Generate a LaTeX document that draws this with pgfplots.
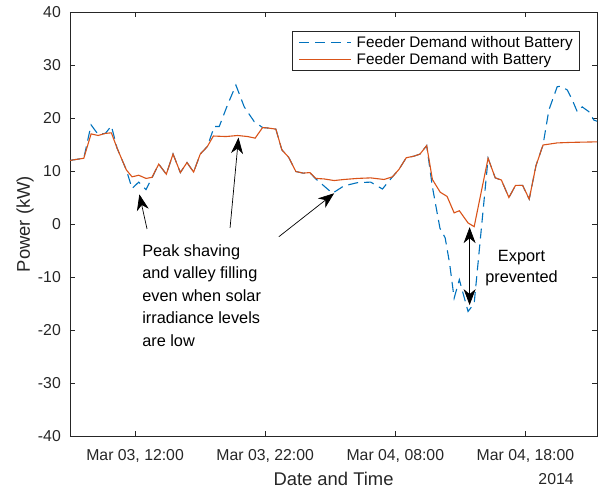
\documentclass[border=0pt]{standalone}
\usepackage{fontspec}
\setmainfont{Liberation Sans}
\usepackage{pgfplots}
\pgfplotsset{compat=1.18}
\usepackage{pgfplotstable}
\usetikzlibrary{arrows.meta}
\definecolor{mblue}{rgb}{0,0.447,0.741}
\definecolor{morange}{rgb}{0.85,0.325,0.098}
\definecolor{axgray}{rgb}{0.15,0.15,0.15}

% hours since Mar 03 00:00, kW
\pgfplotstableread{
t v
7.00 12.0
8.06 12.4
8.62 18.7
9.16 16.9
9.72 17.1
10.18 18.5
10.62 14.3
11.33 10.2
11.77 6.7
12.28 7.9
12.84 6.5
13.30 8.7
13.82 11.3
14.40 9.4
14.92 13.2
15.48 9.7
15.99 11.6
16.50 9.8
17.01 13.2
17.55 14.6
18.09 18.4
18.47 18.4
19.11 22.5
19.75 26.2
20.39 22.1
21.16 19.3
21.80 18.2
22.26 18.1
22.82 17.9
23.28 14.0
23.80 12.6
24.36 9.9
24.92 9.6
25.43 9.7
25.89 8.5
27.17 5.8
28.06 7.2
29.09 7.8
30.11 7.9
31.01 6.6
31.78 8.9
32.28 10.3
32.84 12.5
33.44 12.8
33.90 13.2
34.41 14.8
34.85 7.0
35.43 -0.8
35.83 -2.6
36.17 -7.4
36.52 -14.0
36.92 -10.5
37.59 -16.5
38.06 -15.0
39.13 12.4
39.68 8.7
40.15 8.3
40.73 5.0
41.24 7.3
41.78 7.3
42.29 4.7
42.81 11.0
43.35 14.9
43.80 21.5
44.44 25.9
44.70 26.0
45.21 25.3
45.60 23.4
45.98 21.2
46.36 22.1
46.87 21.2
47.26 19.6
47.50 19.4
}\withoutbat

\pgfplotstableread{
t v
7.00 12.0
8.06 12.4
8.62 17.0
9.16 16.7
9.72 17.1
10.18 17.2
10.62 14.3
11.33 10.2
11.77 8.9
12.28 9.2
12.84 8.6
13.30 8.8
13.82 11.3
14.40 9.4
14.92 13.2
15.48 9.7
15.99 11.6
16.50 9.8
17.01 13.2
17.55 14.6
18.02 16.6
18.98 16.5
19.88 16.7
20.65 16.5
21.23 16.2
21.80 18.2
22.26 18.1
22.82 17.9
23.28 14.0
23.80 12.6
24.36 9.9
24.92 9.6
25.43 9.7
25.89 8.6
26.53 8.5
27.30 8.2
28.06 8.4
29.09 8.6
30.11 8.7
31.13 8.4
31.78 8.9
32.28 10.3
32.84 12.5
33.44 12.8
33.90 13.2
34.41 14.8
34.85 8.4
35.45 6.0
35.98 5.2
36.52 2.1
36.92 2.5
37.59 0.2
38.06 -0.5
39.13 12.4
39.68 8.7
40.15 8.3
40.73 5.0
41.24 7.3
41.78 7.3
42.29 4.7
42.81 11.0
43.35 14.9
44.44 15.3
45.50 15.4
46.50 15.45
47.50 15.5
}\withbat

\begin{document}
\begin{tikzpicture}[x=1pt,y=1pt]
\useasboundingbox (-70,-54) rectangle (542,436);
\begin{axis}[
  at={(0,0)}, anchor=south west,
  scale only axis, width=527pt, height=424pt,
  xmin=7, xmax=47.5, ymin=-40, ymax=40,
  xtick={12,22,32,42},
  xticklabels={{Mar 03, 12:00},{Mar 03, 22:00},{Mar 04, 08:00},{Mar 04, 18:00}},
  ytick={-40,-30,-20,-10,0,10,20,30,40},
  tick align=inside, xtick pos=both, ytick pos=both,
  major tick length=5pt,
  axis line style={axgray, line width=0.6pt},
  tick style={axgray, line width=0.6pt},
  /pgf/number format/assume math mode=true,
  tick label style={font=\fontsize{15.8}{18}\selectfont, text=axgray},
  yticklabel style={inner sep=0pt, xshift=-9pt},
  xticklabel style={inner sep=0pt, yshift=-13pt},
  xlabel={Date and Time},
  ylabel={Power (kW)},
  label style={font=\fontsize{18.4}{22}\selectfont, text=axgray},
  xlabel style={at={(axis description cs:0.5,0)}, anchor=north, inner sep=0pt, yshift=-36pt},
  ylabel style={at={(axis description cs:-0.0854,0.5)}, anchor=center, inner sep=0pt},
  clip mode=individual,
  legend cell align=left,
  legend image code/.code={\draw[#1] (0pt,0pt) -- (52pt,0pt);},
  legend style={at={(0.9677,0.955)}, anchor=north east, draw=axgray, line width=0.6pt,
    font=\fontsize{15.3}{18}\selectfont, inner xsep=6pt, inner ysep=4pt,
    row sep=2pt, column sep=4pt, nodes={inner sep=1pt}},
]
\addplot[mblue, line width=1.1pt, dash pattern=on 10pt off 6pt] table[x=t,y=v] {\withoutbat};
\addlegendentry{Feeder Demand without Battery}
\addplot[morange, line width=1.1pt] table[x=t,y=v] {\withbat};
\addlegendentry{Feeder Demand with Battery}

\node[anchor=north west, align=left, inner sep=0pt, font=\fontsize{16.3}{22.5}\selectfont]
  at (axis cs:12.54,-3.8) {Peak shaving\\and valley filling\\even when solar\\irradiance levels\\are low};
\node[align=center, inner sep=0pt, font=\fontsize{16.3}{21}\selectfont]
  at (axis cs:41.7,-8.4) {Export\\prevented};

\draw[-{Stealth[length=16pt,width=12pt,inset=5pt]}, line width=0.7pt] (axis cs:12.92,-0.94) -- (axis cs:12.33,5.6);
\draw[-{Stealth[length=16pt,width=12pt,inset=5pt]}, line width=0.7pt] (axis cs:19.3,-0.75) -- (axis cs:19.95,16.3);
\draw[-{Stealth[length=16pt,width=12pt,inset=5pt]}, line width=0.7pt] (axis cs:23.05,-2.4) -- (axis cs:27.3,5.8);
\draw[{Stealth[length=16pt,width=12pt,inset=5pt]}-{Stealth[length=16pt,width=12pt,inset=5pt]}, line width=0.7pt] (axis cs:37.71,-0.6) -- (axis cs:37.71,-15.3);

\node[anchor=north east, inner sep=0pt, font=\fontsize{15.8}{18}\selectfont, text=axgray]
  at (axis description cs:0.956,0) [yshift=-37pt] {2014};
\end{axis}
\end{tikzpicture}
\end{document}
